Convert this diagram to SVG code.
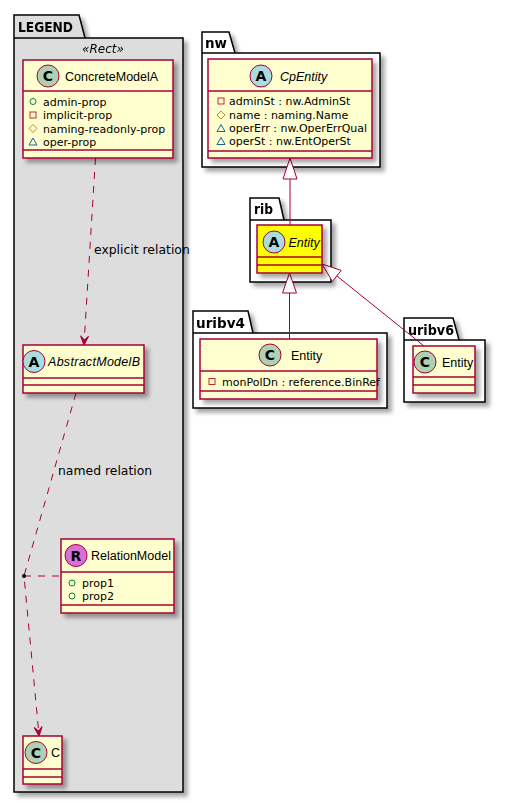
<svg xmlns="http://www.w3.org/2000/svg" width="505" height="803" viewBox="0 0 505 803">
<style>
text{font-family:"DejaVu Sans",sans-serif;fill:#000}
.pkg{fill:#fff;stroke:#000;stroke-width:1.5}
.pkgl{fill:#DDDDDD;stroke:#000;stroke-width:1.5}
.pn{font-size:14px;font-weight:bold}
.cls{fill:#FEFECE;stroke:#A80036;stroke-width:1.5}
.sep{stroke:#A80036;stroke-width:1.5}
.cn{font-family:"Liberation Sans",Arial,sans-serif;font-size:12.5px}
.it{font-style:italic}
.st{font-family:"DejaVu Sans",sans-serif;font-size:12px;font-style:italic}
.at{font-size:11px}
.spot{stroke:#A80036;stroke-width:1}
.sl{font-size:14px;font-weight:bold;text-anchor:middle}
.ln{fill:none;stroke:#A80036;stroke-width:1}
.dash{stroke-dasharray:7,7}
.lbl{font-size:12.4px}
.pub{fill:none;stroke:#038048;stroke-width:1}
.pri{fill:none;stroke:#C82930;stroke-width:1}
.pro{fill:none;stroke:#B38D22;stroke-width:1}
.pkv{fill:none;stroke:#1963A0;stroke-width:1}
</style>
<defs>
<filter id="sh" x="-10%" y="-10%" width="140%" height="140%">
<feGaussianBlur in="SourceAlpha" stdDeviation="2"/>
<feOffset dx="4" dy="4" result="o"/>
<feComponentTransfer in="o" result="s"><feFuncA type="linear" slope="0.35"/></feComponentTransfer>
<feMerge><feMergeNode in="s"/><feMergeNode in="SourceGraphic"/></feMerge>
</filter>
<polygon id="dep" points="-4,-9 0,0 4,-9 0,-5" fill="#A80036" stroke="#A80036" stroke-width="1"/>
</defs>

<!-- packages -->
<g id="pkg-legend" filter="url(#sh)">
<path class="pkgl" d="M14,38 L14,15 L79,15 L85,38 L183,38 L183,792 L14,792 Z"/>
<line x1="14" y1="38" x2="85" y2="38" stroke="#000" stroke-width="1.5"/>
<text class="pn" x="18" y="31.5" textLength="55" lengthAdjust="spacingAndGlyphs">LEGEND</text>
<text class="st" x="103" y="53" text-anchor="middle">«Rect»</text>
</g>
<g id="pkg-nw" filter="url(#sh)">
<path class="pkg" d="M202,53 L202,32 L229,32 L235,53 L380,53 L380,167 L202,167 Z"/>
<line x1="202" y1="53" x2="235" y2="53" stroke="#000" stroke-width="1.5"/>
<text class="pn" x="205" y="47.5" textLength="22" lengthAdjust="spacingAndGlyphs">nw</text>
</g>
<g id="pkg-rib" filter="url(#sh)">
<path class="pkg" d="M250,220 L250,198 L279,198 L284,220 L331,220 L331,282 L250,282 Z"/>
<line x1="250" y1="220" x2="284" y2="220" stroke="#000" stroke-width="1.5"/>
<text class="pn" x="254" y="214" textLength="19" lengthAdjust="spacingAndGlyphs">rib</text>
</g>
<g id="pkg-uribv4" filter="url(#sh)">
<path class="pkg" d="M193,333 L193,311 L248,311 L253,333 L387,333 L387,408 L193,408 Z"/>
<line x1="193" y1="333" x2="253" y2="333" stroke="#000" stroke-width="1.5"/>
<text class="pn" x="196" y="327.5" textLength="49" lengthAdjust="spacingAndGlyphs">uribv4</text>
</g>
<g id="pkg-uribv6" filter="url(#sh)">
<path class="pkg" d="M404,340 L404,318 L453,318 L459,340 L485,340 L485,402 L404,402 Z"/>
<line x1="404" y1="340" x2="459" y2="340" stroke="#000" stroke-width="1.5"/>
<text class="pn" x="408" y="334.5" textLength="46" lengthAdjust="spacingAndGlyphs">uribv6</text>
</g>

<!-- connectors -->
<g id="connectors">
<path class="ln dash" d="M95.5,158 L84,344"/>
<use href="#dep" transform="translate(84,345) rotate(3.5)"/>
<text class="lbl" x="94" y="254">explicit relation</text>
<path class="ln dash" d="M76,393 L24,576 L39,735"/>
<use href="#dep" transform="translate(39,736) rotate(-5.4)"/>
<path class="ln dash" d="M24,576 L61,576"/>
<circle cx="24" cy="576" r="2" fill="#000"/>
<text class="lbl" x="58" y="475">named relation</text>
<line class="ln" x1="290" y1="225" x2="290" y2="179"/>
<polygon points="290,158 283,179 297,179" fill="#fff" stroke="#A80036" stroke-width="1"/>
<line class="ln" x1="289.5" y1="339" x2="289.5" y2="293"/>
<polygon points="289.5,273 282.5,293 296.5,293" fill="#fff" stroke="#A80036" stroke-width="1"/>
<line class="ln" x1="424" y1="346" x2="336.8" y2="275.9"/>
<polygon points="322,264 341.2,270.4 332.4,281.4" fill="#fff" stroke="#A80036" stroke-width="1"/>
</g>

<!-- nodes -->
<g id="ConcreteModelA">
<rect class="cls" x="23" y="60" width="150" height="98" filter="url(#sh)"/>
<line class="sep" x1="23" y1="91" x2="173" y2="91"/>
<line class="sep" x1="23" y1="150" x2="173" y2="150"/>
<circle class="spot" cx="48" cy="76" r="11" fill="#ADD1B2"/>
<text class="sl" x="48" y="81">C</text>
<text class="cn" x="65" y="80.5">ConcreteModelA</text>
<circle class="pub" cx="33" cy="101.5" r="3"/>
<text class="at" x="43" y="105.5">admin-prop</text>
<rect class="pri" x="30" y="112" width="6" height="6"/>
<text class="at" x="43" y="119">implicit-prop</text>
<polygon class="pro" points="33,124.5 37,128.5 33,132.5 29,128.5"/>
<text class="at" x="43" y="132.5">naming-readonly-prop</text>
<polygon class="pkv" points="33,138 37,145 29,145"/>
<text class="at" x="43" y="146">oper-prop</text>
</g>

<g id="AbstractModelB">
<rect class="cls" x="23" y="345" width="121" height="48" filter="url(#sh)"/>
<line class="sep" x1="23" y1="378" x2="144" y2="378"/>
<line class="sep" x1="23" y1="385" x2="144" y2="385"/>
<circle class="spot" cx="34" cy="361.5" r="11" fill="#A9DCDF"/>
<text class="sl" x="34" y="366.5">A</text>
<text class="cn it" x="48" y="366" textLength="92" lengthAdjust="spacing">AbstractModelB</text>
</g>

<g id="RelationModel">
<rect class="cls" x="61" y="539" width="113" height="74" filter="url(#sh)"/>
<line class="sep" x1="61" y1="572" x2="174" y2="572"/>
<line class="sep" x1="61" y1="605" x2="174" y2="605"/>
<circle class="spot" cx="76" cy="555.5" r="11" fill="#DA70D6"/>
<text class="sl" x="76" y="560.5">R</text>
<text class="cn" x="91" y="560">RelationModel</text>
<circle class="pub" cx="72" cy="583" r="3"/>
<text class="at" x="82" y="587">prop1</text>
<circle class="pub" cx="72" cy="596" r="3"/>
<text class="at" x="82" y="600">prop2</text>
</g>

<g id="C">
<rect class="cls" x="23" y="736" width="39" height="48" filter="url(#sh)"/>
<line class="sep" x1="23" y1="769" x2="62" y2="769"/>
<line class="sep" x1="23" y1="777" x2="62" y2="777"/>
<circle class="spot" cx="36" cy="752.5" r="11" fill="#ADD1B2"/>
<text class="sl" x="36" y="757.5">C</text>
<text class="cn" x="51" y="757">C</text>
</g>

<g id="nw.CpEntity">
<rect class="cls" x="208" y="59" width="164" height="99" filter="url(#sh)"/>
<line class="sep" x1="208" y1="91" x2="372" y2="91"/>
<line class="sep" x1="208" y1="151" x2="372" y2="151"/>
<circle class="spot" cx="261" cy="76" r="11" fill="#A9DCDF"/>
<text class="sl" x="261" y="81">A</text>
<text class="cn it" x="280" y="81">CpEntity</text>
<rect class="pri" x="218" y="98" width="6" height="6"/>
<text class="at" x="229" y="105">adminSt : nw.AdminSt</text>
<polygon class="pro" points="221,111 225,115 221,119 217,115"/>
<text class="at" x="229" y="118.5">name : naming.Name</text>
<polygon class="pkv" points="221,124.5 225,131.5 217,131.5"/>
<text class="at" x="229" y="132">operErr : nw.OperErrQual</text>
<polygon class="pkv" points="221,137.5 225,144.5 217,144.5"/>
<text class="at" x="229" y="145">operSt : nw.EntOperSt</text>
</g>

<g id="rib.Entity">
<rect x="257" y="225" width="65" height="48" fill="#FFFF00" stroke="#A80036" stroke-width="1.5" filter="url(#sh)"/>
<line class="sep" x1="257" y1="257" x2="322" y2="257"/>
<line class="sep" x1="257" y1="265" x2="322" y2="265"/>
<circle class="spot" cx="274" cy="242" r="11" fill="#A9DCDF"/>
<text class="sl" x="274" y="247">A</text>
<text class="cn it" x="288.5" y="247">Entity</text>
</g>

<g id="uribv4.Entity">
<rect class="cls" x="200" y="339" width="177" height="60" filter="url(#sh)"/>
<line class="sep" x1="200" y1="371" x2="377" y2="371"/>
<line class="sep" x1="200" y1="391" x2="377" y2="391"/>
<circle class="spot" cx="270" cy="355" r="11" fill="#ADD1B2"/>
<text class="sl" x="270" y="360">C</text>
<text class="cn" x="291" y="360">Entity</text>
<rect class="pri" x="209" y="378.5" width="6" height="6"/>
<text class="at" x="222" y="385.5">monPolDn : reference.BinRef</text>
</g>

<g id="uribv6.Entity">
<rect class="cls" x="413" y="346" width="62" height="47" filter="url(#sh)"/>
<line class="sep" x1="413" y1="377" x2="475" y2="377"/>
<line class="sep" x1="413" y1="385" x2="475" y2="385"/>
<circle class="spot" cx="425" cy="362" r="11" fill="#ADD1B2"/>
<text class="sl" x="425" y="367">C</text>
<text class="cn" x="442" y="367">Entity</text>
</g>
</svg>
